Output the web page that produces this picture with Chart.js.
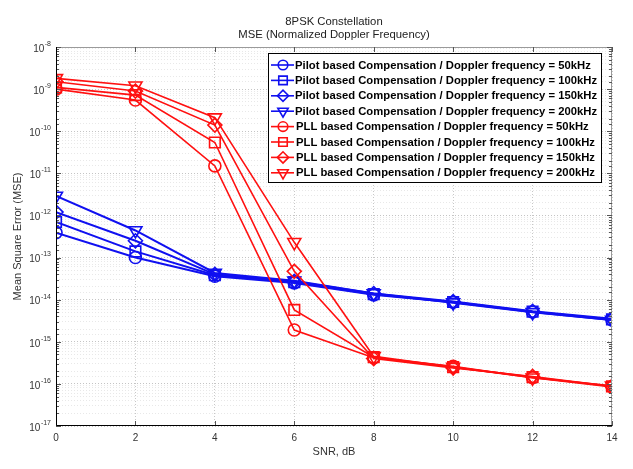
<!DOCTYPE html>
<html>
<head>
<meta charset="utf-8">
<script src="https://cdn.jsdelivr.net/npm/chart.js@4.4.0/dist/chart.umd.min.js"></script>
<style>
html, body { margin: 0; padding: 0; background: #fff; }
</style>
</head>
<body>
<canvas id="myChart" width="633" height="469"></canvas>
<script>
'use strict';
// SNR values on the x axis (dB)
let snr = [0, 2, 4, 6, 8, 10, 12, 14];

// pilot based compensation
let pilot50  = [3.9e-13, 1.0e-13, 3.6e-14, 2.5e-14, 1.3e-14, 8.7e-15, 5.1e-15, 3.3e-15];
let pilot100 = [7.0e-13, 1.4e-13, 3.8e-14, 2.6e-14, 1.35e-14, 8.8e-15, 5.2e-15, 3.4e-15];
let pilot150 = [1.2e-12, 2.5e-13, 4.0e-14, 2.7e-14, 1.4e-14, 9.0e-15, 5.3e-15, 3.5e-15];
let pilot200 = [2.9e-12, 4.4e-13, 4.3e-14, 2.8e-14, 1.4e-14, 8.5e-15, 5.0e-15, 3.3e-15];

// PLL based compensation
let pll50  = [1.0e-9, 5.5e-10, 1.5e-11, 1.9e-15, 4.2e-16, 2.6e-16, 1.4e-16, 8.5e-17];
let pll100 = [1.1e-9, 7.2e-10, 5.4e-11, 5.7e-15, 4.3e-16, 2.5e-16, 1.45e-16, 8.7e-17];
let pll150 = [1.5e-9, 9.0e-10, 1.4e-10, 4.7e-14, 4.0e-16, 2.4e-16, 1.5e-16, 8.8e-17];
let pll200 = [1.8e-9, 1.2e-9, 2.1e-10, 2.3e-13, 4.5e-16, 2.5e-16, 1.4e-16, 9.0e-17];

let seriesNames = [
    'Pilot based Compensation / Doppler frequency = 50kHz',
    'Pilot based Compensation / Doppler frequency = 100kHz',
    'Pilot based Compensation / Doppler frequency = 150kHz',
    'Pilot based Compensation / Doppler frequency = 200kHz',
    'PLL based Compensation / Doppler frequency = 50kHz',
    'PLL based Compensation / Doppler frequency = 100kHz',
    'PLL based Compensation / Doppler frequency = 150kHz',
    'PLL based Compensation / Doppler frequency = 200kHz'
];
let seriesValues = [pilot50, pilot100, pilot150, pilot200, pll50, pll100, pll150, pll200];

let titleLines = ['8PSK Constellation', 'MSE (Normalized Doppler Frequency)'];

let fontName = '"Liberation Sans", Arial, sans-serif';
let blue = '#1010f0';
let red = '#ff1010';
let markers = [
    {style: 'circle', radius: 6, rot: 0},
    {style: 'rect', radius: 7.5, rot: 0},
    {style: 'rectRot', radius: 7, rot: 0},
    {style: 'triangle', radius: 7.5, rot: 180}
];

let datasets = [];
for (let i = 0; i < seriesValues.length; i++) {
    let m = markers[i % 4];
    let col = i < 4 ? blue : red;
    datasets.push({
        label: seriesNames[i],
        data: snr.map((s, j) => ({x: s, y: seriesValues[i][j]})),
        borderColor: col,
        backgroundColor: 'rgba(0,0,0,0)',
        borderWidth: i < 4 ? 2 : 1.6,
        pointStyle: m.style,
        pointRadius: m.radius,
        pointRotation: m.rot,
        pointBorderWidth: 1.6,
        pointBorderColor: col,
        pointBackgroundColor: 'rgba(0,0,0,0)',
        order: i < 4 ? 1 : 0,
        tension: 0
    });
}

function isDecade(v) {
    let l = Math.log10(v);
    return Math.abs(l - Math.round(l)) < 1e-6;
}

// titles centred over the plot, y tick labels with raised exponent
let textBits = {
    id: 'textBits',
    afterDraw(chart) {
        let ctx = chart.ctx;
        let a = chart.chartArea;
        let cx = (a.left + a.right) / 2;
        ctx.save();
        ctx.fillStyle = '#222';
        ctx.textAlign = 'center';
        ctx.textBaseline = 'middle';
        ctx.font = '11.3px ' + fontName;
        ctx.fillText(titleLines[0], cx, 21.5);
        ctx.fillText(titleLines[1], cx, 35);

        let ys = chart.scales.y;
        ctx.fillStyle = '#333';
        ys.ticks.forEach(t => {
            if (!isDecade(t.value)) return;
            let p = ys.getPixelForValue(t.value);
            let ex = String(Math.round(Math.log10(t.value)));
            ctx.font = '7px ' + fontName;
            ctx.textAlign = 'right';
            let ew = ctx.measureText(ex).width;
            ctx.fillText(ex, a.left - 5, p - 3);
            ctx.font = '10px ' + fontName;
            ctx.fillText('10', a.left - 5 - ew - 0.5, p + 2);
        });
        ctx.restore();
    }
};

// frame, inward ticks (matlab look)
let frameBox = {
    id: 'frameBox',
    afterDraw(chart) {
        let ctx = chart.ctx;
        let a = chart.chartArea;
        ctx.save();
        ctx.lineWidth = 1;
        ctx.strokeStyle = '#9a9a9a';
        ctx.beginPath();
        ctx.moveTo(a.left, a.top + 0.5);
        ctx.lineTo(a.right - 0.5, a.top + 0.5);
        ctx.lineTo(a.right - 0.5, a.bottom);
        ctx.stroke();
        let ys = chart.scales.y;
        ctx.strokeStyle = '#555';
        ys.ticks.forEach(t => {
            let p = Math.round(ys.getPixelForValue(t.value)) + 0.5;
            let len = isDecade(t.value) ? 5 : 3;
            ctx.beginPath();
            ctx.moveTo(a.left, p); ctx.lineTo(a.left + len, p);
            ctx.moveTo(a.right, p); ctx.lineTo(a.right - len, p);
            ctx.stroke();
        });
        let xs = chart.scales.x;
        xs.ticks.forEach(t => {
            let p = Math.round(xs.getPixelForValue(t.value)) + 0.5;
            ctx.beginPath();
            ctx.moveTo(p, a.bottom); ctx.lineTo(p, a.bottom - 5);
            ctx.moveTo(p, a.top); ctx.lineTo(p, a.top + 5);
            ctx.stroke();
        });
        ctx.strokeStyle = '#000';
        ctx.beginPath();
        ctx.moveTo(a.left + 0.5, a.top);
        ctx.lineTo(a.left + 0.5, a.bottom - 0.5);
        ctx.lineTo(a.right, a.bottom - 0.5);
        ctx.stroke();
        ctx.restore();
    }
};

// legend inside the plot, line + marker like matlab
let legendBox = {
    id: 'legendBox',
    afterDraw(chart) {
        let ctx = chart.ctx;
        let a = chart.chartArea;
        let left = a.left + 212;
        let top = a.top + 6;
        let w = 333, h = 129;
        ctx.save();
        ctx.fillStyle = '#fff';
        ctx.fillRect(left, top, w, h);
        ctx.strokeStyle = '#000';
        ctx.lineWidth = 1;
        ctx.strokeRect(left + 0.5, top + 0.5, w, h);
        ctx.font = 'bold 10px ' + fontName;
        let tw = ctx.measureText(seriesNames[0]).width;
        let size = 10 * 296 / tw;
        ctx.font = 'bold ' + size.toFixed(2) + 'px ' + fontName;
        ctx.textBaseline = 'middle';
        for (let i = 0; i < datasets.length; i++) {
            let ds = datasets[i];
            let y = top + 12 + i * 15.4;
            ctx.strokeStyle = ds.borderColor;
            ctx.lineWidth = 1.6;
            ctx.beginPath();
            ctx.moveTo(left + 3, y);
            ctx.lineTo(left + 26, y);
            ctx.stroke();
            ctx.fillStyle = 'rgba(0,0,0,0)';
            Chart.helpers.drawPoint(ctx, {
                pointStyle: ds.pointStyle,
                radius: ds.pointRadius * 0.8,
                rotation: ds.pointRotation,
                borderWidth: 1.6
            }, left + 15, y);
            ctx.fillStyle = '#000';
            ctx.fillText(ds.label, left + (i < 4 ? 27 : 28), y + 0.5);
        }
        ctx.restore();
    }
};

let ctx = document.getElementById('myChart').getContext('2d');
let chart = new Chart(ctx, {
    type: 'line',
    data: {datasets: datasets},
    plugins: [frameBox, legendBox, textBits],
    options: {
        responsive: false,
        animation: false,
        layout: {padding: {left: 0, right: 21, top: 47, bottom: 0}},
        plugins: {
            legend: {display: false},
            tooltip: {enabled: false}
        },
        scales: {
            x: {
                type: 'linear',
                min: 0,
                max: 14,
                afterFit(scale) { scale.height = 43; },
                ticks: {
                    stepSize: 2,
                    color: '#333',
                    padding: 6,
                    font: {family: fontName, size: 10}
                },
                grid: {
                    color: '#c8c8c8',
                    drawTicks: false
                },
                border: {display: false, dash: [1, 2]},
                title: {
                    display: true,
                    text: 'SNR, dB',
                    color: '#333',
                    font: {family: fontName, size: 11},
                    padding: {top: 0, bottom: 10}
                }
            },
            y: {
                type: 'logarithmic',
                min: 1e-17,
                max: 1e-8,
                afterFit(scale) { scale.width = 56; },
                ticks: {
                    autoSkip: false,
                    color: '#333',
                    padding: 4,
                    font: {family: fontName, size: 10},
                    callback: function () { return ''; }
                },
                grid: {
                    color: (c) => (c.tick && isDecade(c.tick.value)) ? '#c4c4c4' : '#e8e8e8',
                    drawTicks: false
                },
                border: {display: false, dash: [1, 2]},
                title: {
                    display: true,
                    text: 'Mean Square Error (MSE)',
                    color: '#333',
                    font: {family: fontName, size: 11},
                    padding: {top: 11, bottom: 0}
                }
            }
        }
    }
});
</script>
</body>
</html>
